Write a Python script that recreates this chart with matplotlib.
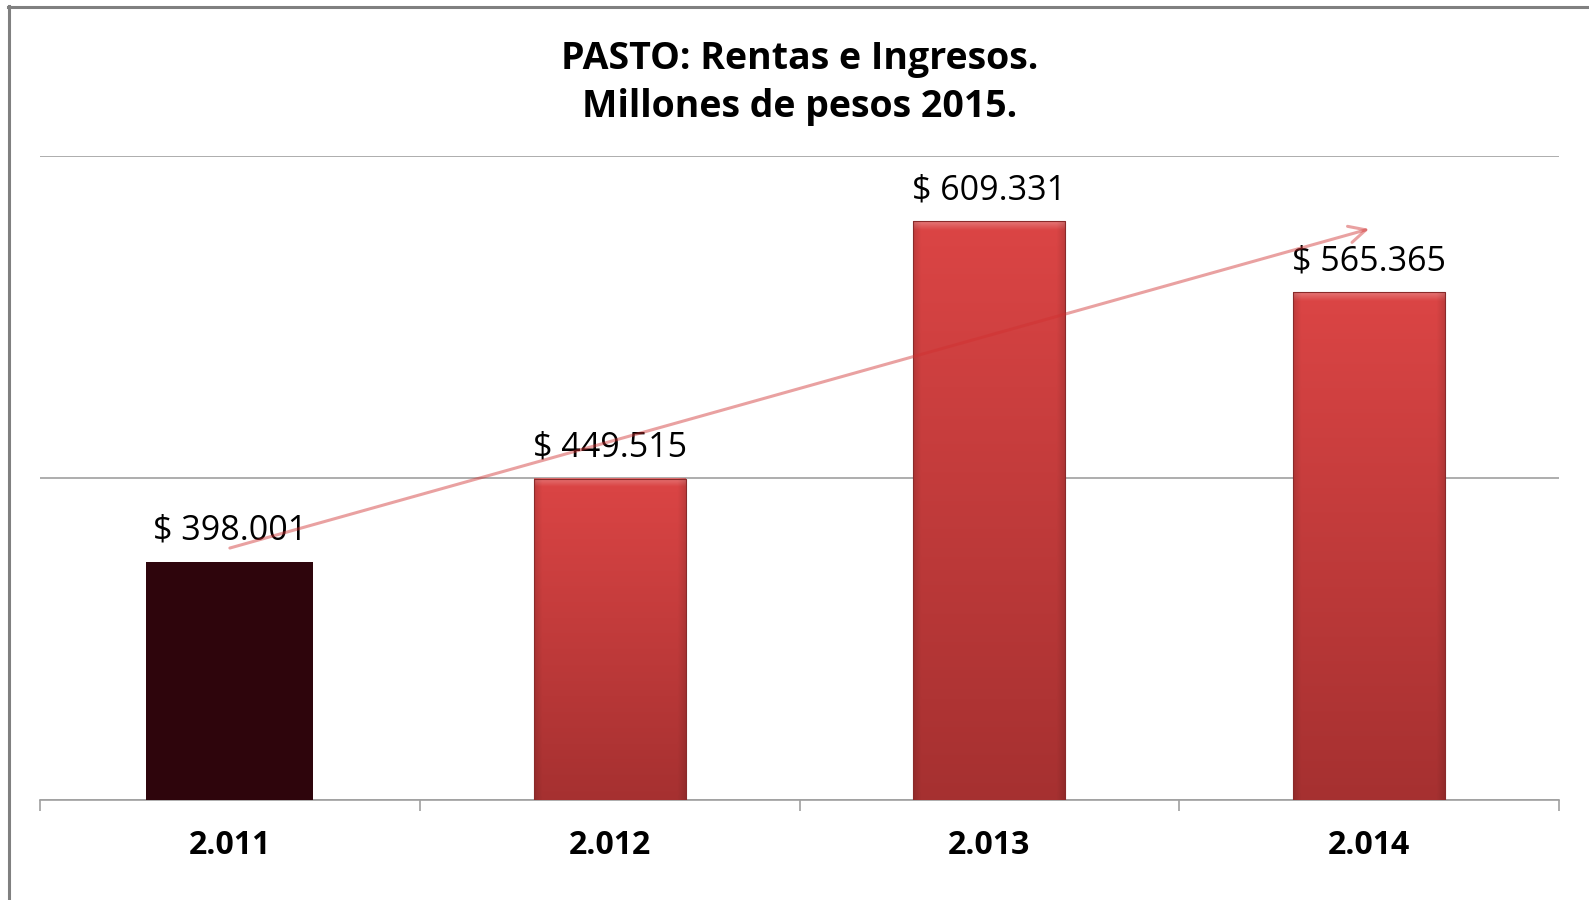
import numpy as np
import matplotlib
matplotlib.use("Agg")
import matplotlib.pyplot as plt
from matplotlib.lines import Line2D

# datos
anios = ["2.011", "2.012", "2.013", "2.014"]
valores = [398001, 449515, 609331, 565365]
etiquetas = ["$ 398.001", "$ 449.515", "$ 609.331", "$ 565.365"]
titulo1 = "PASTO: Rentas e Ingresos."
titulo2 = "Millones de pesos 2015."

plt.rcParams["font.family"] = ["Open Sans", "DejaVu Sans"]

W, H = 1589, 900
fig = plt.figure(figsize=(W / 100, H / 100), dpi=100)
ax = fig.add_axes([40 / W, 100 / H, 1519 / W, 644 / H])

ymin, ymax = 250000, 650000
ax.set_xlim(-0.5, 3.5)
ax.set_ylim(ymin, ymax)

# barras con degradado
def barra_img(alto_px, ancho_px, top, bottom, bisel=8):
    nh, nw = 300, 150
    v = np.linspace(1, 0, nh)[:, None]          # 1 arriba
    u = np.linspace(0, 1, nw)[None, :]
    col = bottom[None, None, :] + (top - bottom)[None, None, :] * v[..., None]
    col = np.repeat(col, nw, axis=1)
    # bisel superior y bordes
    fy = bisel / alto_px
    fx = bisel / ancho_px
    dist_top = 1 - v
    luz = np.clip(1 - dist_top / fy, 0, 1)
    col = col + (1 - col) * 0.25 * luz[..., None]
    lado = np.clip(1 - np.minimum(u, 1 - u) / fx, 0, 1)
    col = col * (1 - 0.12 * lado[..., None])
    return np.clip(col, 0, 1)

px_per_unit = 644 / (ymax - ymin)
top_c = np.array([0.86, 0.27, 0.27])
bot_c = np.array([0.65, 0.19, 0.19])
for i, v in enumerate(valores):
    if i == 0:
        w = 0.44
        ax.bar(i, v - ymin, bottom=ymin, width=w, color="#2e050c", zorder=3)
    else:
        w = 0.40
        img = barra_img((v - ymin) * px_per_unit, w * 379.75, top_c, bot_c)
        ax.imshow(img, extent=[i - w / 2, i + w / 2, ymin, v], aspect="auto",
                  zorder=3, interpolation="bilinear")
        ax.add_line(Line2D([i - w / 2, i - w / 2, i + w / 2, i + w / 2],
                           [ymin, v, v, ymin], color="#8a2a2a", lw=0.8, zorder=4))
    ax.annotate(etiquetas[i], (i, v), xytext=(0, 16), textcoords="offset points",
                ha="center", va="baseline", fontsize=24.5, color="black", zorder=5)

ax.set_xlim(-0.5, 3.5)
ax.set_ylim(ymin, ymax)

# flecha de tendencia
ax.annotate("", xy=(3.0, 604700), xytext=(0.0, 406500),
            arrowprops=dict(arrowstyle="->", color="#d03030", alpha=0.45, lw=2.2,
                            mutation_scale=30, shrinkA=0, shrinkB=0),
            zorder=6)

# ejes
ax.set_yticks([250000, 450000, 650000])
ax.set_yticklabels([])
ax.tick_params(axis="y", length=0)
ax.grid(axis="y", color="#a0a0a0", lw=1.2, zorder=0)
ax.set_axisbelow(True)
for s in ["top", "right", "left"]:
    ax.spines[s].set_visible(False)
ax.spines["bottom"].set_color("#a0a0a0")
ax.spines["bottom"].set_linewidth(1.2)

ax.set_xticks(range(4))
ax.set_xticklabels(anios, fontsize=23, fontweight="bold")
ax.tick_params(axis="x", which="major", length=0, pad=21)
ax.set_xticks([-0.5, 0.5, 1.5, 2.5, 3.5], minor=True)
ax.tick_params(axis="x", which="minor", length=8, color="#a0a0a0", width=1.2)

# titulo
fig.text(800 / W, 1 - 59 / H, titulo1, ha="center", va="center",
         fontsize=27, fontweight="bold")
fig.text(800 / W, 1 - 107 / H, titulo2, ha="center", va="center",
         fontsize=27, fontweight="bold")

# borde del recuadro
fig.add_artist(Line2D([8.5 / W, 8.5 / W], [0, 1 - 6 / H], color="#808080", lw=2.2,
                      transform=fig.transFigure))
fig.add_artist(Line2D([7.5 / W, 1], [1 - 7 / H, 1 - 7 / H], color="#808080", lw=2.2,
                      transform=fig.transFigure))

fig.savefig("out.png", dpi=100)
